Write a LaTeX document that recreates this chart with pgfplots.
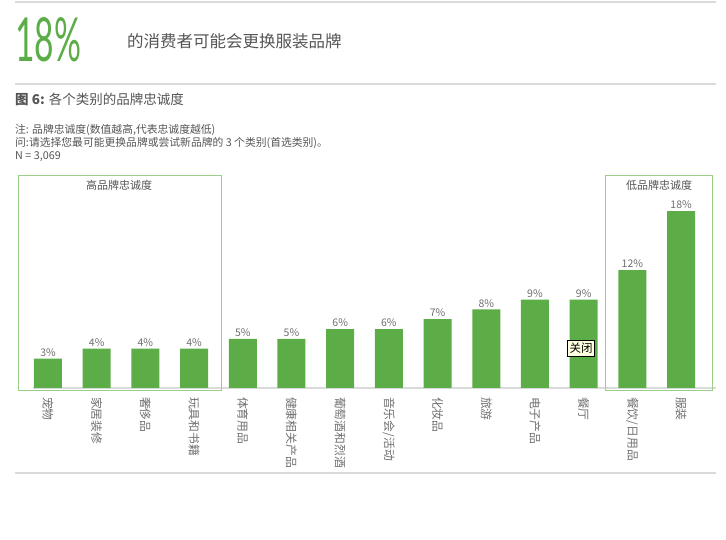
\documentclass[border=0pt]{standalone}
\usepackage{pgfplots}
\pgfplotsset{compat=1.18}
\usepackage{fontspec}
\usepackage{graphicx}
\setmainfont{Noto Sans CJK SC}
\newfontfamily\latofont{Lato}
\definecolor{barg}{HTML}{5CAD47}
\definecolor{boxg}{HTML}{9ACF8A}
\definecolor{txt}{HTML}{555555}
\definecolor{lbl}{HTML}{707070}
\definecolor{rulec}{HTML}{DADADA}
\definecolor{tip}{HTML}{FFFFE1}
\pgfplotstableread{
x y
0 3
1 4
2 4
3 4
4 5
5 5
6 6
7 6
8 7
9 8
10 9
11 9
12 12
13 18
}\datatable
\begin{document}
\begin{tikzpicture}[x=1pt,y=1pt]
\useasboundingbox (0,0) rectangle (726,540);
\fill[white] (0,0) rectangle (726,540);
\draw[rulec, line width=1.5pt] (15,538) -- (716,538);
\draw[rulec, line width=1.2pt] (15,456) -- (716,456);
\draw[rulec, line width=1.2pt] (15,67) -- (716,67);
\node[anchor=south west, inner sep=0, text=barg] at (15,478) {\resizebox{66pt}{44pt}{\latofont 18\%}};
\node[anchor=west, inner sep=0, text=txt, font=\fontsize{16.5}{18}\selectfont] at (127,499) {的消费者可能会更换服装品牌};
\node[anchor=west, inner sep=0, text=txt, font=\fontsize{13.5}{15}\selectfont] at (15,441) {{\bfseries 图 6:} 各个类别的品牌忠诚度};
\node[anchor=west, inner sep=0, text=txt, font=\fontsize{10.8}{12}\selectfont] at (15,410) {注: 品牌忠诚度(数值越高,代表忠诚度越低)};
\node[anchor=west, inner sep=0, text=txt, font=\fontsize{10.8}{12}\selectfont] at (15,397) {问:请选择您最可能更换品牌或尝试新品牌的 3 个类别(首选类别)。};
\node[anchor=west, inner sep=0, text=txt, font=\fontsize{10.8}{12}\selectfont] at (15,383) {N = 3,069};
\begin{axis}[
  at={(33pt,152pt)}, anchor=south west,
  scale only axis, width=683pt, height=213pt,
  xmin=-0.308, xmax=13.717, ymin=0, ymax=21.67,
  ybar, bar width=28pt,
  axis y line=none, axis x line*=bottom,
  axis line style={draw=rulec, line width=2pt},
  xtick=data, major tick length=0pt,
  xticklabels={宠物,家居装修,奢侈品,玩具和书籍,体育用品,健康相关产品,葡萄酒和烈酒,音乐会/活动,化妆品,旅游,电子产品,餐厅,餐饮/日用品,服装},
  xticklabel style={rotate=-90, anchor=west, inner xsep=9pt, inner ysep=0pt, text=lbl, font=\fontsize{11.8}{12}\selectfont},
  /pgf/number format/assume math mode=true,
  nodes near coords={\pgfmathprintnumber{\pgfplotspointmeta}\%},
  nodes near coords style={text=lbl, font=\fontsize{10.5}{12}\selectfont, inner sep=2pt},
  clip=false,
]
\addplot[draw=none, fill=barg] table[x=x, y=y] {\datatable};
\end{axis}
\draw[boxg, line width=0.8pt] (18,150) rectangle (221,365);
\draw[boxg, line width=0.8pt] (605,150) rectangle (712,365);
\node[text=txt, font=\fontsize{11}{12}\selectfont] at (119,355) {高品牌忠诚度};
\node[text=txt, font=\fontsize{11}{12}\selectfont] at (659,355) {低品牌忠诚度};
\node[draw=black, line width=0.5pt, fill=tip, inner xsep=2pt, inner ysep=2.5pt, text=black, font=\fontsize{11.5}{12}\selectfont] at (581,191.5) {关闭};
\end{tikzpicture}
\end{document}
